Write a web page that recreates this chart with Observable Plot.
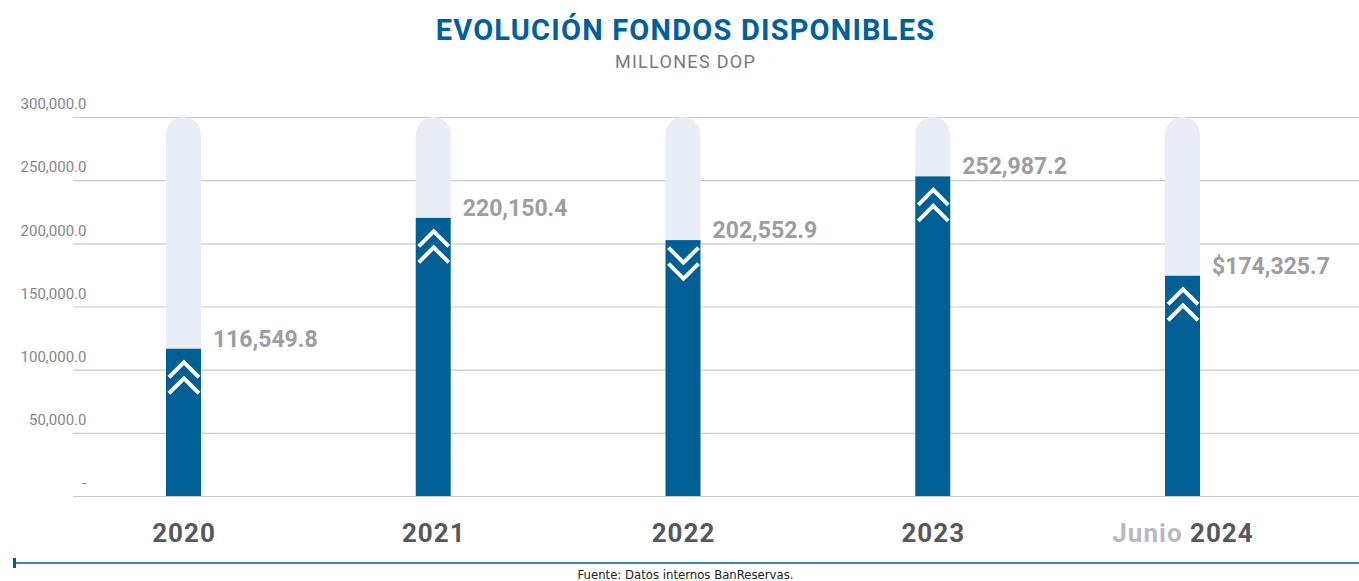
<!DOCTYPE html>
<html>
<head>
<meta charset="utf-8">
<script src="https://cdn.jsdelivr.net/npm/d3@7"></script>
<script src="https://cdn.jsdelivr.net/npm/@observablehq/plot@0.6"></script>
<style>
  html, body { margin: 0; padding: 0; background: #fff; }
  #wrap { position: relative; width: 1359px; height: 581px; overflow: hidden; font-family: Roboto, sans-serif; }
  #title { position: absolute; left: 6px; top: 0; width: 1359px; height: 60px; line-height: 60px; text-align: center;
           font-size: 29px; font-weight: 700; color: #00609c; letter-spacing: 1.2px; }
  #subtitle { position: absolute; left: 6px; top: 50px; width: 1359px; height: 24px; line-height: 24px; text-align: center;
              font-size: 18px; color: #7a7a7e; letter-spacing: 1.3px; }
  #chart { position: absolute; left: 0; top: 80px; }
  #rule { position: absolute; left: 14px; top: 562px; width: 1345px; height: 2px; background: #3a87b4; }
  #tick { position: absolute; left: 13px; top: 558px; width: 3px; height: 10px; background: #005b96; }
  #source { position: absolute; left: 6px; top: 567px; width: 1359px; height: 16px; line-height: 16px; text-align: center;
            font-family: "Liberation Sans Narrow", "DejaVu Sans Condensed", Arial, sans-serif; font-size: 13px; color: #222; }
</style>
</head>
<body>
<div id="wrap">
  <div id="title">EVOLUCIÓN FONDOS DISPONIBLES</div>
  <div id="subtitle">MILLONES DOP</div>
  <div id="chart"></div>
  <div id="rule"></div>
  <div id="tick"></div>
  <div id="source">Fuente: Datos internos BanReservas.</div>
</div>
<script>
// ---- data ----
const years = ["2020", "2021", "2022", "2023", "Junio 2024"];
const values = [116549.8, 220150.4, 202552.9, 252987.2, 174325.7];
const labelPrefixes = ["", "", "", "", "$"];
const directions = ["up", "up", "down", "up", "up"];
const yTicks = [0, 50000, 100000, 150000, 200000, 250000, 300000];
const yMax = 300000;

const fmt = d3.format(",.1f");
const data = years.map((year, i) => ({
  year,
  value: values[i],
  label: labelPrefixes[i] + fmt(values[i]),
  dir: directions[i]
}));

// custom double-chevron symbols
function chevron(up) {
  return {
    draw(context, size) {
      const s = Math.sqrt(size / Math.PI); // = r
      const k = up ? 1 : -1;
      const h = s;
      context.moveTo(-s, k * 0);
      context.lineTo(0, k * -h);
      context.lineTo(s, k * 0);
      context.moveTo(-s, k * (h + 1));
      context.lineTo(0, k * 1);
      context.lineTo(s, k * (h + 1));
    }
  };
}
const chevUp = chevron(true);
const chevDown = chevron(false);

const chart = Plot.plot({
  width: 1359,
  height: 470,
  marginTop: 37,
  marginBottom: 54,
  marginLeft: 73,
  marginRight: 0,
  style: { fontFamily: "Roboto, sans-serif", background: "transparent" },
  x: { domain: years, range: [58.6, 1307.4], paddingInner: 0.86, paddingOuter: 0.43, round: false, label: null },
  y: { domain: [0, yMax], label: null },
  marks: [
    Plot.ruleY(yTicks, { stroke: "#c9c9cf", strokeWidth: 1.2 }),
    Plot.axisY(yTicks, {
      tickSize: 0, tickPadding: -13, dy: -13, fontSize: 15, fill: "#86868b",
      tickFormat: d => d === 0 ? "-" : fmt(d)
    }),
    Plot.axisX({ tickSize: 0, tickPadding: 27, fontSize: 26, fontWeight: 700, fill: "#58585c" }),
    Plot.barY(data, { x: "year", y1: 0, y2: () => yMax, fill: "#e9eef6", rx: 17.5 }),
    Plot.barY(data, { x: "year", y1: 0, y2: "value", fill: "#006096" }),
    Plot.dot(data, { filter: d => d.dir === "up", x: "year", y: "value", dy: 28, r: 15, symbol: chevUp,
      fill: "none", stroke: "white", strokeWidth: 4, strokeLinejoin: "miter" }),
    Plot.dot(data, { filter: d => d.dir === "down", x: "year", y: "value", dy: 23, r: 15, symbol: chevDown,
      fill: "none", stroke: "white", strokeWidth: 4, strokeLinejoin: "miter" }),
    Plot.text(data, { x: "year", y: "value", text: "label", dx: 29, dy: -10, textAnchor: "start",
      fontSize: 23, fontWeight: 700, fill: "#9d9da2" })
  ]
});

// two-tone "Junio 2024" label
chart.querySelectorAll("text").forEach(t => {
  if (t.textContent === "Junio 2024") {
    t.innerHTML = '<tspan fill="#b9b9c0">Junio</tspan> <tspan>2024</tspan>';
  }
});
chart.querySelectorAll("g[aria-label='x-axis tick label'] text").forEach(t => t.setAttribute("letter-spacing", "1"));

document.getElementById("chart").appendChild(chart);
</script>
</body>
</html>
